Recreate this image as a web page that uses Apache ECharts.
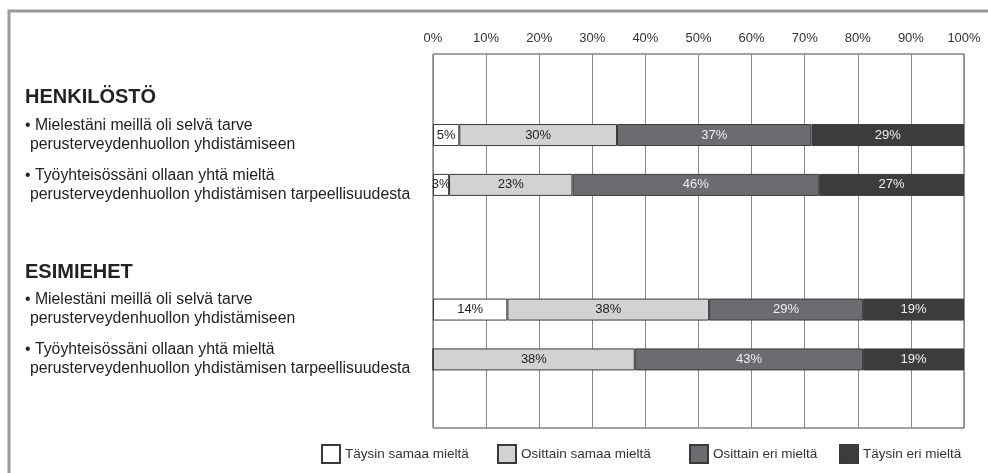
<!DOCTYPE html>
<html>
<head>
<meta charset="utf-8">
<script src="https://cdn.jsdelivr.net/npm/echarts@6.0.0/dist/echarts.min.js"></script>
<style>
  html, body { margin: 0; padding: 0; background: #fff; }
  #chart { width: 988px; height: 473px; }
</style>
</head>
<body>
<div id="chart"></div>
<script>
// answers per row: HENKILÖSTÖ s1, s2, ESIMIEHET s1, s2
const groupNames = ['HENKILÖSTÖ', 'ESIMIEHET'];
const statements = [
  ['• Mielestäni meillä oli selvä tarve', 'perusterveydenhuollon yhdistämiseen'],
  ['• Työyhteisössäni ollaan yhtä mieltä', 'perusterveydenhuollon yhdistämisen tarpeellisuudesta']
];
const seriesNames = ['Täysin samaa mieltä', 'Osittain samaa mieltä', 'Osittain eri mieltä', 'Täysin eri mieltä'];
const taysinSamaa = [5, 3, 14, 0];
const osittainSamaa = [30, 23, 38, 38];
const osittainEri = [37, 46, 29, 43];
const taysinEri = [29, 27, 19, 19];

const colors = ['#ffffff', '#d1d2d4', '#6b6c70', '#3c3c3c'];
const labelColors = ['#222', '#222', '#eeeeee', '#eeeeee'];

// vertical layout of the category axis
const SLOTS = 30;
const headerSlots = [3, 17];
const rowSlots = [6, 10, 20, 24];

const slotText = new Array(SLOTS).fill('');
headerSlots.forEach((s, g) => { slotText[s] = '{h|' + groupNames[g] + '}'; });
rowSlots.forEach((s, r) => {
  const st = statements[r % 2];
  slotText[s] = '{b|' + st[0] + '}\n{c|' + st[1] + '}';
});
const slotKeys = slotText.map((t, i) => 'slot' + i);

const raw = [taysinSamaa, osittainSamaa, osittainEri, taysinEri];
const rowSums = rowSlots.map((s, r) => raw.reduce((a, arr) => a + arr[r], 0));

const series = raw.map((arr, k) => {
  const data = new Array(SLOTS).fill('-');
  rowSlots.forEach((s, r) => {
    data[s] = { value: arr[r] * 100 / rowSums[r], raw: arr[r] };
  });
  return {
    name: seriesNames[k],
    type: 'bar',
    stack: 'all',
    barWidth: 22,
    data: data,
    itemStyle: { color: colors[k], borderColor: '#3a3a3a', borderWidth: 1 },
    label: {
      show: true,
      position: 'inside',
      color: labelColors[k],
      fontSize: 13,
      fontFamily: 'Liberation Sans, Arial, sans-serif',
      formatter: p => (p.data && p.data.raw > 0) ? p.data.raw + '%' : ''
    },
    emphasis: { disabled: true }
  };
});

const legendLeft = [321, 497, 689, 839];

const chart = echarts.init(document.getElementById('chart'));
chart.setOption({
  animation: false,
  textStyle: { fontFamily: 'Liberation Sans, Arial, sans-serif' },
  graphic: [{
    type: 'rect',
    shape: { x: 9, y: 11, width: 1000, height: 500 },
    style: { fill: 'none', stroke: '#999', lineWidth: 3 },
    silent: true
  }],
  grid: {
    left: 433, top: 54, width: 531, height: 374,
    show: true, borderColor: '#444', borderWidth: 1, backgroundColor: '#fff'
  },
  legend: seriesNames.map((n, i) => ({
    data: [n],
    left: legendLeft[i],
    top: 444,
    padding: 0,
    icon: 'rect',
    itemWidth: 18,
    itemHeight: 18,
    itemGap: 0,
    selectedMode: false,
    textStyle: { fontSize: 13.5, color: '#333', fontFamily: 'Liberation Sans, Arial, sans-serif' }
  })),
  xAxis: {
    type: 'value',
    position: 'top',
    min: 0, max: 100, interval: 10,
    axisLine: { show: false },
    axisTick: { show: false },
    axisLabel: { formatter: '{value}%', color: '#333', fontSize: 13, margin: 9 },
    splitLine: { show: true, lineStyle: { color: '#8a8a8a', width: 1 } }
  },
  yAxis: {
    type: 'category',
    inverse: true,
    data: slotKeys,
    axisLine: { show: false },
    axisTick: { show: false },
    splitLine: { show: false },
    axisLabel: {
      interval: 0,
      align: 'left',
      margin: 408,
      formatter: (v, i) => slotText[i],
      rich: {
        h: { fontSize: 20, fontWeight: 'bold', color: '#222' },
        b: { fontSize: 15.8, color: '#222', lineHeight: 19 },
        c: { fontSize: 15.8, color: '#222', lineHeight: 19, padding: [0, 0, 0, 5] }
      }
    }
  },
  series: series
});
</script>
</body>
</html>
